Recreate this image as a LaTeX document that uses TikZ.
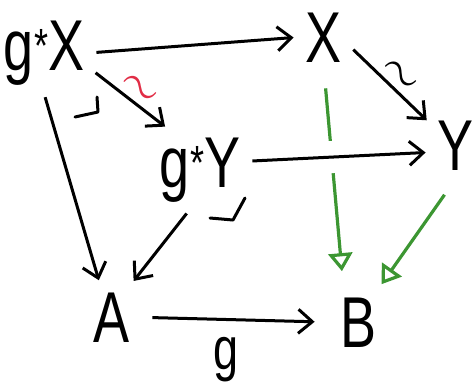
\documentclass[tikz,border=0pt]{standalone}
\usepackage{fontspec}
\setmainfont{Liberation Sans}[FakeStretch=0.75]
\usepackage{tikz}
\usetikzlibrary{arrows.meta, positioning}
\usepackage{xcolor}
\definecolor{pbgreen}{RGB}{60,150,50}
\definecolor{isored}{RGB}{225,45,70}

\tikzset{
  obj/.style={font=\fontsize{36}{40}\selectfont, inner sep=4pt, anchor=base},
  lab/.style={font=\fontsize{30}{32}\selectfont, inner sep=2pt},
  arr/.style={line width=1.5pt, -{Straight Barb[length=7pt,width=12pt]},
              shorten <=2pt, shorten >=2pt},
  fib/.style={draw=pbgreen, line width=1.6pt,
              -{Triangle[open,length=9pt,width=12pt]}},
  iso/.style={sloped, above, inner sep=1pt, font=\fontsize{26}{26}\selectfont},
  pbcorner/.style={line width=1.5pt, line cap=round, line join=round},
  gap/.style={draw=white, line width=16pt},
}
\newcommand{\pull}{g\raisebox{4pt}{\fontsize{24}{24}\selectfont*}}

\begin{document}
\begin{tikzpicture}[x=0.5pt, y=-0.5pt]
  \useasboundingbox (0,0) rectangle (476,386);
  % objects
  \node[obj] (gX) at (44,70) {\pull X};
  \node[obj] (X) at (324,62) {X};
  \node[obj] (gY) at (200,187) {\pull Y};
  \node[obj] (Y) at (456,170) {Y};
  \node[obj] (A) at (112,342) {A};
  \node[obj] (B) at (359,347) {B};

  % green maps go behind
  \draw[fib, shorten <=9pt, shorten >=9pt] (X.south) -- (B.115);
  \draw[fib, shorten <=10pt, shorten >=3pt] (Y.south) -- (B.60);
  \draw[gap] (gY.10) -- (Y.-165);

  % black maps
  \draw[arr] (gX.east) -- (X.west);
  \draw[arr] (gX.-20) -- node[iso, text=isored] (t1) {$\sim$} (gY.128);
  \draw[arr] (gX.south) -- (A.110);
  \draw[arr] (X.-20) -- node[iso] (t2) {$\sim$} (Y.140);
  \draw[arr] (gY.10) -- (Y.-165);
  \draw[arr] (gY.-105) -- (A.60);
  \draw[arr, shorten <=7pt, shorten >=9pt] (A.east)
    -- node[lab, below=6pt, pos=0.45] (lg) {g} (B.west);

  % pullback corners
  \draw[pbcorner] (97,97) -- (98,112) -- (75,117);
  \draw[pbcorner] (245,198) -- (233,220) -- (210,218);
\end{tikzpicture}
\end{document}
